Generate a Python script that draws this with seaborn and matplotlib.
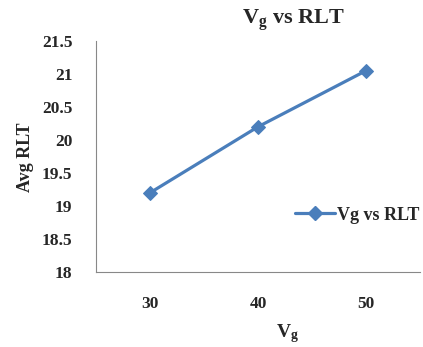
import matplotlib
matplotlib.use("Agg")
import matplotlib.pyplot as plt
import seaborn as sns
import pandas as pd

vg = [30, 40, 50]
avg_rlt = [19.2, 20.2, 21.05]
y_ticks = [18, 18.5, 19, 19.5, 20, 20.5, 21, 21.5]
y_tick_labels = ["18", "18.5", "19", "19.5", "20", "20.5", "21", "21.5"]
series_name = "Vg vs RLT"

sns.set_style("white")
plt.rcParams["font.family"] = ["Liberation Serif", "DejaVu Serif"]
plt.rcParams["font.weight"] = "bold"
plt.rcParams["mathtext.fontset"] = "custom"
plt.rcParams["mathtext.rm"] = "Liberation Serif:bold"
plt.rcParams["mathtext.it"] = "Liberation Serif:bold"
plt.rcParams["mathtext.bf"] = "Liberation Serif:bold"

df = pd.DataFrame({"Vg": vg, "Avg RLT": avg_rlt, "series": series_name})

fig = plt.figure(figsize=(4.23, 3.47), dpi=100)
ax = fig.add_axes([96 / 423, 1 - 272 / 347, 324 / 423, 231 / 347])

color = "#4a7ebb"
sns.lineplot(data=df, x="Vg", y="Avg RLT", hue="series", palette=[color],
             marker="D", markersize=7, markeredgecolor=color, linewidth=2.3,
             ax=ax, legend=False)

ax.set_xlim(25, 55)
ax.set_ylim(18, 21.5)
ax.set_xticks(vg)
ax.set_xticklabels([str(v) for v in vg], fontsize=12.5, fontweight="bold")
ax.set_yticks(y_ticks)
ax.set_yticklabels(y_tick_labels, fontsize=12.5, fontweight="bold")
ax.tick_params(axis="x", length=0, pad=17)
ax.tick_params(axis="y", length=0, pad=17)

for side in ["top", "right"]:
    ax.spines[side].set_visible(False)
for side in ["left", "bottom"]:
    ax.spines[side].set_color("#888888")
    ax.spines[side].set_linewidth(0.8)

ax.set_xlabel(r"$\mathrm{V_g}$", fontsize=14, fontweight="bold", va="center")
ax.set_ylabel("Avg RLT", fontsize=13, fontweight="bold", va="center")
ax.xaxis.set_label_coords((287 - 96) / 324, (272 - 334) / 231)
ax.yaxis.set_label_coords((25 - 96) / 324, (272 - 157) / 231)
fig.text(293 / 423, 1 - 20 / 347, r"$\mathrm{V_g}$ vs RLT", fontsize=16,
         fontweight="bold", ha="center", va="center")

handle = plt.Line2D([], [], color=color, marker="D", markersize=7, linewidth=2.3)
fig.legend([handle], [series_name], loc="center left",
           bbox_to_anchor=(295 / 423, 1 - 215 / 347), frameon=False,
           prop={"size": 13, "weight": "bold"}, handlelength=2.2,
           handletextpad=0.1, borderaxespad=0, borderpad=0)

fig.savefig("out.png", dpi=100)
